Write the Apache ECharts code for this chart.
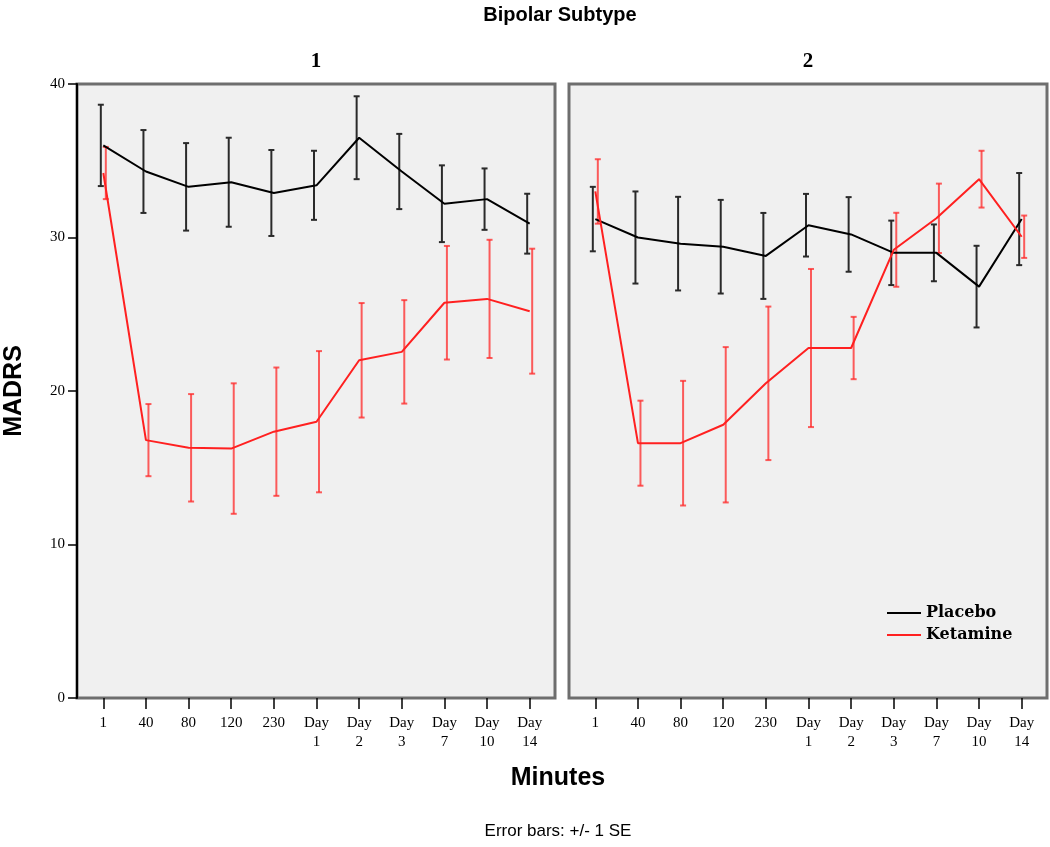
<!DOCTYPE html>
<html>
<head>
<meta charset="utf-8">
<script src="https://cdn.jsdelivr.net/npm/echarts@6/dist/echarts.min.js"></script>
<style>
html,body{margin:0;padding:0;background:#fff;}
#chart{width:1050px;height:847px;}
</style>
</head>
<body>
<div id="chart"></div>
<script>
// ---- data ----
const categories = ['1','40','80','120','230','Day\n1','Day\n2','Day\n3','Day\n7','Day\n10','Day\n14'];
const yTicks = [0, 10, 20, 30, 40];
const panelTitles = ['1', '2'];
const seriesNames = ['Placebo', 'Ketamine'];

const placeboMean1  = [36.0, 34.3, 33.3, 33.6, 32.9, 33.4, 36.5, 34.3, 32.2, 32.5, 30.9];
const placeboSE1    = [2.65, 2.7, 2.85, 2.9, 2.8, 2.25, 2.7, 2.45, 2.5, 2.0, 1.95];
const ketamineMean1 = [34.2, 16.8, 16.3, 16.25, 17.35, 18.0, 22.0, 22.55, 25.75, 26.0, 25.2];
const ketamineSE1   = [1.7, 2.35, 3.5, 4.25, 4.18, 4.6, 3.73, 3.37, 3.7, 3.85, 4.07];

const placeboMean2  = [31.2, 30.0, 29.6, 29.4, 28.8, 30.8, 30.2, 29.0, 29.0, 26.8, 31.2];
const placeboSE2    = [2.1, 3.0, 3.05, 3.05, 2.8, 2.04, 2.43, 2.1, 1.85, 2.66, 3.0];
const ketamineMean2 = [33.0, 16.6, 16.6, 17.8, 20.5, 22.8, 22.8, 29.2, 31.25, 33.8, 30.05];
const ketamineSE2   = [2.1, 2.77, 4.06, 5.06, 5.0, 5.15, 2.03, 2.41, 2.26, 1.85, 1.38];

// ---- chart ----
const chart = echarts.init(document.getElementById('chart'));

const BLACK = '#000000';
const RED = '#ff2020';
const RED_BAR = 'rgba(255,40,40,0.75)';
const BLACK_BAR = '#2a2a2a';
const tickFont = 'Liberation Serif';

function errData(mean, se) {
  return mean.map((m, i) => [i, m, se[i]]);
}
function errRender(dx, color) {
  return function (params, api) {
    const i = api.value(0), m = api.value(1), s = api.value(2);
    const top = api.coord([i, m + s]);
    const bot = api.coord([i, m - s]);
    const x = top[0] + dx;
    const w = 3;
    const style = { stroke: color, lineWidth: 2 };
    return {
      type: 'group',
      children: [
        { type: 'line', shape: { x1: x, y1: top[1], x2: x, y2: bot[1] }, style },
        { type: 'line', shape: { x1: x - w, y1: top[1], x2: x + w, y2: top[1] }, style },
        { type: 'line', shape: { x1: x - w, y1: bot[1], x2: x + w, y2: bot[1] }, style }
      ]
    };
  };
}

const grids = [
  { left: 82, top: 84, width: 469, height: 614 },
  { left: 574, top: 84, width: 469, height: 614 }
];

function xAxisFor(idx) {
  return {
    type: 'category', gridIndex: idx, data: categories, boundaryGap: true,
    axisLine: { show: false },
    axisTick: { show: true, alignWithLabel: true, length: 11, lineStyle: { color: '#000', width: 1.5 } },
    axisLabel: { color: '#000', fontFamily: tickFont, fontSize: 15, lineHeight: 19, margin: 16, interval: 0 },
    splitLine: { show: false }
  };
}

const option = {
  animation: false,
  backgroundColor: '#ffffff',
  grid: grids,
  xAxis: [xAxisFor(0), xAxisFor(1)],
  yAxis: [
    {
      type: 'value', gridIndex: 0, min: yTicks[0], max: yTicks[yTicks.length - 1], interval: 10, offset: 5,
      axisLine: { show: true, lineStyle: { color: '#000', width: 2 } },
      axisTick: { show: true, length: 9, lineStyle: { color: '#000', width: 1.5 } },
      axisLabel: { color: '#000', fontFamily: tickFont, fontSize: 15, margin: 12 },
      splitLine: { show: false }
    },
    {
      type: 'value', gridIndex: 1, min: yTicks[0], max: yTicks[yTicks.length - 1], interval: 10,
      axisLine: { show: false }, axisTick: { show: false }, axisLabel: { show: false }, splitLine: { show: false }
    }
  ],
  legend: {
    data: seriesNames.map(n => ({ name: n, icon: 'rect' })),
    orient: 'vertical',
    left: 887, top: 605, padding: 0,
    itemWidth: 34, itemHeight: 2, itemGap: 6,
    textStyle: { fontFamily: 'DejaVu Serif', fontWeight: 'bold', fontSize: 16, color: '#000' }
  },
  series: [
    { type: 'custom', name: 'PlaceboErr1', xAxisIndex: 0, yAxisIndex: 0, data: errData(placeboMean1, placeboSE1), renderItem: errRender(-2.5, BLACK_BAR), z: 3 },
    { type: 'custom', name: 'KetamineErr1', xAxisIndex: 0, yAxisIndex: 0, data: errData(ketamineMean1, ketamineSE1), renderItem: errRender(2.5, RED_BAR), z: 3 },
    { type: 'custom', name: 'PlaceboErr2', xAxisIndex: 1, yAxisIndex: 1, data: errData(placeboMean2, placeboSE2), renderItem: errRender(-2.5, BLACK_BAR), z: 3 },
    { type: 'custom', name: 'KetamineErr2', xAxisIndex: 1, yAxisIndex: 1, data: errData(ketamineMean2, ketamineSE2), renderItem: errRender(2.5, RED_BAR), z: 3 },
    { type: 'line', name: 'Placebo', xAxisIndex: 0, yAxisIndex: 0, data: placeboMean1, symbol: 'none', lineStyle: { color: BLACK, width: 2 }, itemStyle: { color: BLACK }, z: 4 },
    { type: 'line', name: 'Ketamine', xAxisIndex: 0, yAxisIndex: 0, data: ketamineMean1, symbol: 'none', lineStyle: { color: RED, width: 2 }, itemStyle: { color: RED }, z: 5 },
    { type: 'line', name: 'Placebo', xAxisIndex: 1, yAxisIndex: 1, data: placeboMean2, symbol: 'none', lineStyle: { color: BLACK, width: 2 }, itemStyle: { color: BLACK }, z: 4 },
    { type: 'line', name: 'Ketamine', xAxisIndex: 1, yAxisIndex: 1, data: ketamineMean2, symbol: 'none', lineStyle: { color: RED, width: 2 }, itemStyle: { color: RED }, z: 5 }
  ],
  graphic: [
    { type: 'rect', z: -10, silent: true, shape: { x: 77, y: 84, width: 478, height: 614 }, style: { fill: '#f0f0f0', stroke: '#6e6e6e', lineWidth: 3 } },
    { type: 'rect', z: -10, silent: true, shape: { x: 569, y: 84, width: 478, height: 614 }, style: { fill: '#f0f0f0', stroke: '#6e6e6e', lineWidth: 3 } },
    { type: 'text', style: { text: 'Bipolar Subtype', x: 560, y: 15, textAlign: 'center', textVerticalAlign: 'middle', fontFamily: 'Liberation Sans', fontWeight: 'bold', fontSize: 20, fill: '#000' } },
    { type: 'text', style: { text: panelTitles[0], x: 316, y: 62, textAlign: 'center', textVerticalAlign: 'middle', fontFamily: 'Liberation Serif', fontWeight: 'bold', fontSize: 21, fill: '#000' } },
    { type: 'text', style: { text: panelTitles[1], x: 808, y: 62, textAlign: 'center', textVerticalAlign: 'middle', fontFamily: 'Liberation Serif', fontWeight: 'bold', fontSize: 21, fill: '#000' } },
    { type: 'text', rotation: Math.PI / 2, x: 14, y: 391, style: { text: 'MADRS', x: 0, y: 0, textAlign: 'center', textVerticalAlign: 'middle', fontFamily: 'Liberation Sans', fontWeight: 'bold', fontSize: 25, fill: '#000' } },
    { type: 'text', style: { text: 'Minutes', x: 558, y: 778, textAlign: 'center', textVerticalAlign: 'middle', fontFamily: 'Liberation Sans', fontWeight: 'bold', fontSize: 25, fill: '#000' } },
    { type: 'text', style: { text: 'Error bars: +/- 1 SE', x: 558, y: 831, textAlign: 'center', textVerticalAlign: 'middle', fontFamily: 'Liberation Sans', fontSize: 17, fill: '#000' } }
  ]
};
chart.setOption(option);
</script>
</body>
</html>
